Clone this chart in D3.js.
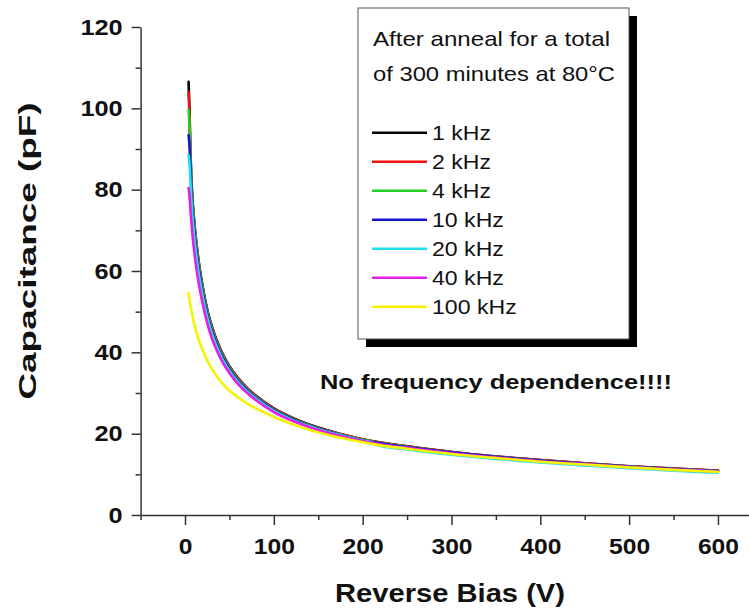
<!DOCTYPE html>
<html>
<head>
<meta charset="utf-8">
<script src="https://cdn.jsdelivr.net/npm/d3@7"></script>
<style>
  body { margin: 0; background: #fff; }
  text { font-family: "Liberation Sans", Arial, sans-serif; fill: #111; }
</style>
</head>
<body>
<div id="chart"></div>
<script>
// reverse bias (V) shared by all sweeps
const bias = [4, 5, 6, 7, 8, 10, 12, 15, 20, 25, 30, 40, 50, 60, 70, 80, 100, 125, 150, 175, 200, 210, 215, 250, 300, 350, 400, 450, 500, 550, 600];

// capacitance (pF) per frequency
const cap1k   = [106.5, 100, 90, 83.5, 79, 73, 68.5, 63, 56, 50.5, 46.5, 40.7, 36.6, 33.6, 31.2, 29.3, 26.2, 23.5, 21.5, 19.9, 18.6, 18.2, 18.0, 16.9, 15.5, 14.4, 13.5, 12.7, 12.0, 11.4, 10.9];
const cap2k   = [104, 98.5, 89.5, 83, 78.7, 72.8, 68.3, 62.8, 55.8, 50.3, 46.3, 40.5, 36.5, 33.5, 31.1, 29.2, 26.1, 23.4, 21.4, 19.9, 18.6, 18.2, 18.0, 16.9, 15.5, 14.4, 13.5, 12.7, 12.0, 11.4, 10.9];
const cap4k   = [99.6, 96, 88.5, 82.3, 78, 72.2, 67.7, 62.2, 55.3, 49.9, 45.9, 40.2, 36.2, 33.2, 30.9, 29.0, 25.9, 23.3, 21.3, 19.8, 18.5, 18.1, 17.9, 16.8, 15.4, 14.3, 13.4, 12.6, 11.9, 11.3, 10.8];
const cap10k  = [93.4, 91, 86, 80.5, 76.5, 71, 66.6, 61.3, 54.6, 49.3, 45.4, 39.8, 35.9, 32.9, 30.7, 28.8, 25.8, 23.2, 21.2, 19.7, 18.4, 18.0, 17.8, 16.7, 15.4, 14.3, 13.4, 12.6, 11.9, 11.3, 10.8];
const cap20k  = [88.5, 86.5, 82.5, 78, 74.5, 69.3, 65.2, 60.1, 53.7, 48.6, 44.8, 39.3, 35.5, 32.6, 30.4, 28.6, 25.6, 23.0, 21.1, 19.6, 18.3, 17.9, 17.3, 16.1, 14.8, 13.8, 12.9, 12.2, 11.5, 10.9, 10.4];
const cap40k  = [80.4, 78.5, 75.5, 72.5, 69.8, 65.5, 62, 57.5, 51.8, 47.2, 43.6, 38.5, 34.9, 32.1, 30.0, 28.2, 25.3, 22.8, 20.9, 19.4, 18.2, 17.8, 17.6, 16.5, 15.2, 14.1, 13.2, 12.5, 11.8, 11.2, 10.7];
const cap100k = [54.5, 53, 51.7, 50.5, 49.4, 47.3, 45.6, 43.4, 40.5, 38.0, 36.0, 32.9, 30.6, 28.9, 27.4, 26.2, 24.1, 22.0, 20.3, 19.0, 17.9, 17.5, 17.3, 16.3, 15.0, 14.0, 13.1, 12.4, 11.7, 11.1, 10.6];

const freqLabels = ["1 kHz", "2 kHz", "4 kHz", "10 kHz", "20 kHz", "40 kHz", "100 kHz"];
const xTicks = [0, 100, 200, 300, 400, 500, 600];
const xMinor = [-50, 50, 150, 250, 350, 450, 550];
const yTicks = [0, 20, 40, 60, 80, 100, 120];
const yMinor = [10, 30, 50, 70, 90, 110];

const colors = ["#000000", "#ee1111", "#22d022", "#1515d0", "#22e0ea", "#e81ee8", "#f4f400"];
const series = [cap1k, cap2k, cap4k, cap10k, cap20k, cap40k, cap100k].map((vals, i) => ({
  label: freqLabels[i],
  values: bias.map((v, j) => [v, vals[j]]),
}));

const width = 749;
const height = 608;

const svg = d3.select("#chart").append("svg")
  .attr("width", width)
  .attr("height", height);

const x = d3.scaleLinear().domain([-50, 640]).range([140.6, 753.5]);
const y = d3.scaleLinear().domain([0, 120]).range([515, 27]);

// stretch text horizontally, the scan is wider than the font
function stretch(sel, k) {
  sel.each(function () {
    const w = this.getComputedTextLength();
    d3.select(this).attr("textLength", w * k).attr("lengthAdjust", "spacingAndGlyphs");
  });
}

// axes
const xMinorAxis = svg.append("g")
  .attr("transform", "translate(0," + y(0) + ")")
  .call(d3.axisBottom(x).tickValues(xMinor).tickSize(5).tickFormat(""));
const xAxis = svg.append("g")
  .attr("transform", "translate(0," + y(0) + ")")
  .call(d3.axisBottom(x).tickValues(xTicks).tickSize(10).tickSizeOuter(0).tickPadding(12));

const yMinorAxis = svg.append("g")
  .attr("transform", "translate(" + x(-50) + ",0)")
  .call(d3.axisLeft(y).tickValues(yMinor).tickSize(5).tickFormat(""));
const yAxis = svg.append("g")
  .attr("transform", "translate(" + x(-50) + ",0)")
  .call(d3.axisLeft(y).tickValues(yTicks).tickSize(9).tickSizeOuter(0).tickPadding(9));

[xMinorAxis, xAxis, yMinorAxis, yAxis].forEach((g) => {
  g.selectAll("line").attr("stroke", "#333").attr("stroke-width", 1.5);
  g.select(".domain").attr("stroke", "#333").attr("stroke-width", 1.5);
});
xMinorAxis.select(".domain").remove();
yMinorAxis.select(".domain").remove();

xAxis.selectAll("text")
  .attr("font-size", 22).attr("font-weight", "bold").attr("fill", "#111")
  .style("font-family", '"Liberation Sans", Arial, sans-serif')
  .attr("dy", "0.75em")
  .call(stretch, 1.12);
yAxis.selectAll("text")
  .attr("font-size", 22).attr("font-weight", "bold").attr("fill", "#111")
  .style("font-family", '"Liberation Sans", Arial, sans-serif')
  .call(stretch, 1.15);

// curves
const line = d3.line()
  .x((d) => x(d[0]))
  .y((d) => y(d[1]))
  .curve(d3.curveMonotoneX);

svg.append("g")
  .selectAll("path")
  .data(series)
  .join("path")
  .attr("d", (d) => line(d.values))
  .attr("fill", "none")
  .attr("stroke", (d, i) => colors[i])
  .attr("stroke-width", 2.6)
  .attr("stroke-linejoin", "round")
  .attr("stroke-linecap", "round");

// axis titles
svg.append("text")
  .attr("x", 450)
  .attr("y", 602)
  .attr("text-anchor", "middle")
  .attr("font-size", 25)
  .attr("font-weight", "bold")
  .attr("textLength", 230)
  .attr("lengthAdjust", "spacingAndGlyphs")
  .text("Reverse Bias (V)");

svg.append("text")
  .attr("transform", "translate(36,251) rotate(-90)")
  .attr("text-anchor", "middle")
  .attr("font-size", 24)
  .attr("font-weight", "bold")
  .attr("textLength", 297)
  .attr("lengthAdjust", "spacingAndGlyphs")
  .text("Capacitance (pF)");

svg.append("text")
  .attr("x", 320)
  .attr("y", 389)
  .attr("font-size", 20.5)
  .attr("font-weight", "bold")
  .attr("textLength", 352)
  .attr("lengthAdjust", "spacingAndGlyphs")
  .text("No frequency dependence!!!!");

// legend box with shadow
const legend = svg.append("g");
legend.append("rect")
  .attr("x", 366).attr("y", 16)
  .attr("width", 271).attr("height", 331)
  .attr("fill", "#000");
legend.append("rect")
  .attr("x", 358).attr("y", 8)
  .attr("width", 271).attr("height", 331)
  .attr("fill", "#fff")
  .attr("stroke", "#555")
  .attr("stroke-width", 1);

legend.append("text")
  .attr("x", 373).attr("y", 46)
  .attr("font-size", 21)
  .attr("textLength", 237)
  .attr("lengthAdjust", "spacingAndGlyphs")
  .text("After anneal for a total");
legend.append("text")
  .attr("x", 373).attr("y", 81)
  .attr("font-size", 21)
  .attr("textLength", 242)
  .attr("lengthAdjust", "spacingAndGlyphs")
  .text("of 300 minutes at 80°C");

const item = legend.selectAll(".item")
  .data(series)
  .join("g")
  .attr("class", "item")
  .attr("transform", (d, i) => "translate(0," + (132.7 + i * 29) + ")");

item.append("line")
  .attr("x1", 372).attr("x2", 427)
  .attr("stroke", (d, i) => colors[i])
  .attr("stroke-width", 2.4);

item.append("text")
  .attr("x", 432)
  .attr("dy", "0.36em")
  .attr("font-size", 21)
  .text((d) => d.label)
  .call(stretch, 1.1);
</script>
</body>
</html>
